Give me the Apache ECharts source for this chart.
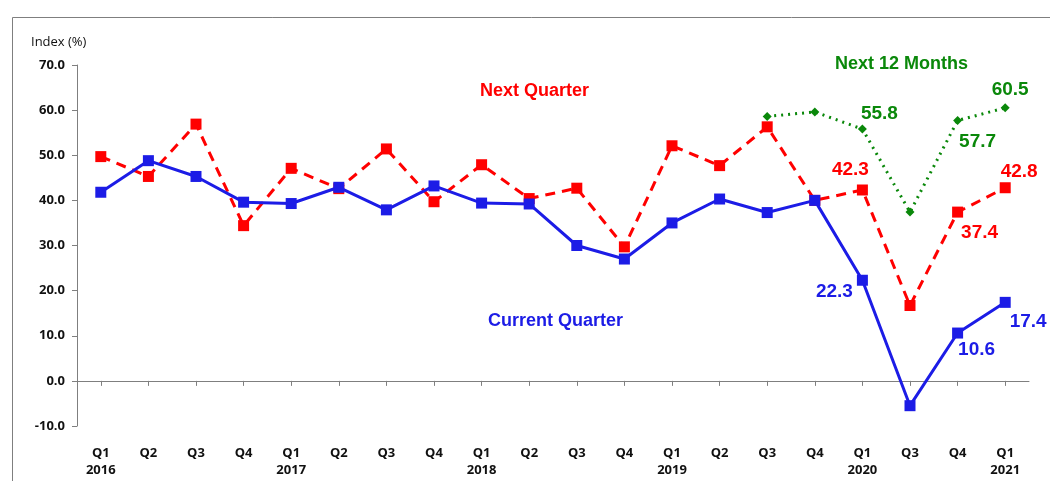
<!DOCTYPE html>
<html>
<head>
<meta charset="utf-8">
<script src="https://cdn.jsdelivr.net/npm/echarts@6/dist/echarts.min.js"></script>
<style>
  html, body { margin: 0; padding: 0; background: #ffffff; }
  #chart { width: 1050px; height: 481px; }
</style>
</head>
<body>
<div id="chart"></div>
<script>
// Quarter / year labels along the x axis (2020 Q2 is not surveyed)
const quarters = ['Q1','Q2','Q3','Q4','Q1','Q2','Q3','Q4','Q1','Q2','Q3','Q4','Q1','Q2','Q3','Q4','Q1','Q3','Q4','Q1'];
const years    = ['2016','','','','2017','','','','2018','','','','2019','','','','2020','','','2021'];

// Index values (%)
const currentQuarter = [41.8, 48.8, 45.3, 39.6, 39.3, 42.9, 37.9, 43.2, 39.4, 39.2, 30.0, 27.0, 35.0, 40.3, 37.3, 40.0, 22.3, -5.5, 10.6, 17.4];
const nextQuarter    = [49.7, 45.3, 56.9, 34.4, 47.1, 42.6, 51.4, 39.7, 47.9, 40.4, 42.7, 29.7, 52.1, 47.7, 56.3, 40.0, 42.3, 16.7, 37.4, 42.8];
const next12Months   = [null, null, null, null, null, null, null, null, null, null, null, null, null, null, 58.6, 59.6, 55.8, 37.4, 57.7, 60.5];

// y-axis ticks
const yMin = -10, yMax = 70, yStep = 10;

const categories = quarters.map((q, i) => years[i] ? q + '\n' + years[i] : q);

// Which points carry a value label, and where the label sits around the marker
const labelOffsets = {
  current: { 16: [-28, 12], 18: [19, 17], 19: [23, 19] },
  next:    { 16: [-12, -20], 18: [22, 21], 19: [14, -16] },
  months:  { 16: [17, -15], 18: [20, 21], 19: [5, -18] }
};

const BLUE = '#1c1ce6', RED = '#ff0000', GREEN = '#0a880a';
const labelFont = 'Liberation Sans, Arial, sans-serif';
const axisFont = 'Open Sans, Noto Sans, sans-serif';

function withLabels(values, offsets, color) {
  return values.map((v, i) => {
    if (v === null) return null;
    const off = offsets[i];
    if (!off) return v;
    return {
      value: v,
      label: {
        show: true,
        position: 'inside',
        offset: off,
        formatter: (p) => p.value.toFixed(1),
        color: color,
        fontSize: 19,
        fontWeight: 'bold',
        fontFamily: labelFont
      }
    };
  });
}

const chart = echarts.init(document.getElementById('chart'), null, { renderer: 'canvas' });

chart.setOption({
  animation: false,
  backgroundColor: '#ffffff',
  grid: { left: 77, right: 21, top: 65, bottom: 55, containLabel: false, outerBoundsMode: 'none' },
  xAxis: [
    {
      // zero line with ticks at each quarter
      type: 'category',
      data: categories,
      boundaryGap: true,
      axisLine: { onZero: true, lineStyle: { color: '#7f7f7f', width: 1 } },
      axisTick: { show: true, alignWithLabel: true, length: 5, lineStyle: { color: '#7f7f7f' } },
      axisLabel: { show: false },
      splitLine: { show: false }
    },
    {
      // quarter / year labels along the bottom of the plot
      type: 'category',
      data: categories,
      position: 'bottom',
      boundaryGap: true,
      axisLine: { show: false, onZero: false },
      axisTick: { show: false },
      axisLabel: {
        interval: 0,
        margin: 19,
        color: '#111111',
        fontSize: 13,
        fontWeight: 'bold',
        lineHeight: 17,
        fontFamily: axisFont
      },
      splitLine: { show: false }
    }
  ],
  yAxis: {
    type: 'value',
    min: yMin,
    max: yMax,
    interval: yStep,
    axisLine: { show: true, lineStyle: { color: '#7f7f7f', width: 1 } },
    axisTick: { show: true, length: 5, lineStyle: { color: '#7f7f7f' } },
    axisLabel: {
      margin: 12,
      color: '#111111',
      fontSize: 13,
      fontWeight: 'bold',
      fontFamily: axisFont,
      formatter: (v) => v.toFixed(1)
    },
    splitLine: { show: false }
  },
  graphic: [
    {
      type: 'rect',
      left: 10, top: 15,
      shape: { width: 1200, height: 600 },
      style: { fill: 'none', stroke: '#7f7f7f', lineWidth: 1 },
      silent: true
    },
    {
      type: 'text',
      left: 31, top: 36,
      style: { text: 'Index (%)', fill: '#111111', fontSize: 13, fontFamily: axisFont }
    },
    {
      type: 'text',
      left: 480, top: 82,
      style: { text: 'Next Quarter', fill: RED, fontSize: 18, fontWeight: 'bold', fontFamily: labelFont }
    },
    {
      type: 'text',
      left: 488, top: 312,
      style: { text: 'Current Quarter', fill: BLUE, fontSize: 18, fontWeight: 'bold', fontFamily: labelFont }
    },
    {
      type: 'text',
      left: 835, top: 55,
      style: { text: 'Next 12 Months', fill: GREEN, fontSize: 18, fontWeight: 'bold', fontFamily: labelFont }
    }
  ],
  series: [
    {
      name: 'Next Quarter',
      type: 'line',
      data: withLabels(nextQuarter, labelOffsets.next, RED),
      symbol: 'rect',
      symbolSize: 11,
      itemStyle: { color: RED },
      lineStyle: { color: RED, width: 3, type: [10, 7] },
      z: 2
    },
    {
      name: 'Current Quarter',
      type: 'line',
      data: withLabels(currentQuarter, labelOffsets.current, BLUE),
      symbol: 'rect',
      symbolSize: 11,
      itemStyle: { color: BLUE },
      lineStyle: { color: BLUE, width: 3 },
      z: 3
    },
    {
      name: 'Next 12 Months',
      type: 'line',
      data: withLabels(next12Months, labelOffsets.months, GREEN),
      symbol: 'diamond',
      symbolSize: 9,
      itemStyle: { color: GREEN },
      lineStyle: { color: GREEN, width: 3, type: [2, 5] },
      z: 4
    }
  ]
});
</script>
</body>
</html>
